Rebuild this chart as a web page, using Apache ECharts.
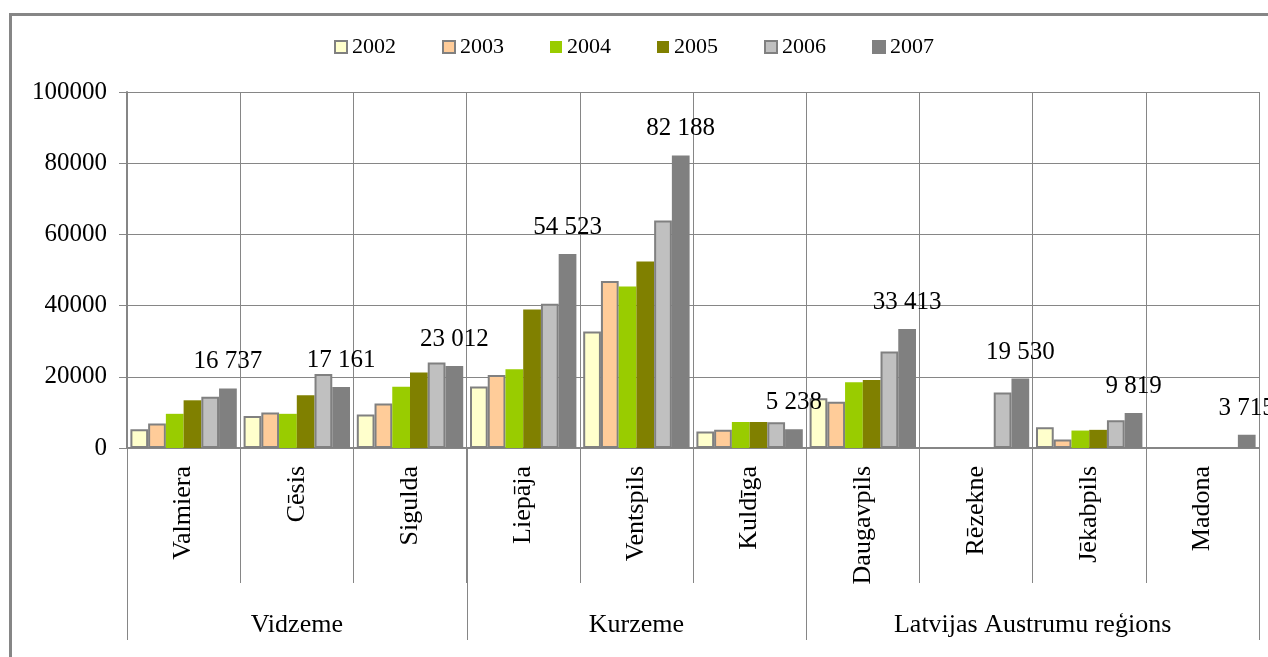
<!DOCTYPE html>
<html><head><meta charset="utf-8">
<script src="https://cdn.jsdelivr.net/npm/echarts@6/dist/echarts.min.js"></script>
<style>
html,body{margin:0;padding:0;background:#fff;}
#wrap{position:relative;width:1268px;height:657px;overflow:hidden;}
#c{width:1268px;height:657px;}
#frame{position:absolute;left:9px;top:13px;width:1300px;height:700px;border:3px solid #868686;pointer-events:none;}
</style></head><body>
<div id="wrap"><div id="c"></div><div id="frame"></div></div>
<script>
const cities = ['Valmiera','Cēsis','Sigulda','Liepāja','Ventspils','Kuldīga','Daugavpils','Rēzekne','Jēkabpils','Madona'];
const regions = ['Vidzeme','Kurzeme','Latvijas Austrumu reģions'];
const regionSizes = [3,3,4];
const years = ['2002','2003','2004','2005','2006','2007'];
const y2002 = [5300, 9000, 9400, 17300, 32700, 4600, 14000, null, 5800, null];
const y2003 = [6900, 10000, 12500, 20500, 46900, 5100, 13000, null, 2400, null];
const y2004 = [9600, 9600, 17200, 22100, 45400, 7300, 18500, null, 4900, null];
const y2005 = [13400, 14800, 21200, 38900, 52400, 7300, 19100, null, 5100, null];
const y2006 = [14400, 20800, 24000, 40500, 63900, 7200, 27100, 15600, 7800, null];
const y2007 = [16737, 17161, 23012, 54523, 82188, 5238, 33413, 19530, 9819, 3715];
const yTicks = {min:0, max:100000, interval:20000};

const fills = ['#FFFFCC','#FFCC99','#99CC00','#808000','#C0C0C0','#808080'];
const borders = [2,2,0,0,2,2];
const seriesData = [y2002,y2003,y2004,y2005,y2006,y2007];
const FONT = 'Liberation Serif';
const GRAY = '#868686';

const chart = echarts.init(document.getElementById('c'));
function fmt(v){ return String(v).replace(/\B(?=(\d{3})+(?!\d))/g,' '); }

chart.setOption({
  animation:false,
  backgroundColor:'#fff',
  textStyle:{fontFamily:FONT},
  legend:{
    top:31, left:'center', itemWidth:12, itemHeight:12, itemGap:46,
    icon:'rect',
    textStyle:{fontFamily:FONT,fontSize:22,color:'#000'},
    data:years
  },
  grid:{left:127,right:9,top:92,bottom:209,containLabel:false},
  xAxis:{
    type:'category', data:cities,
    axisLine:{show:true,lineStyle:{color:GRAY,width:2}},
    axisTick:{show:true,alignWithLabel:false,length:135,lineStyle:{color:GRAY,width:1}},
    axisLabel:{interval:0,rotate:90,margin:18,fontFamily:FONT,fontSize:26,color:'#000'},
    splitLine:{show:true,lineStyle:{color:GRAY,width:1}}
  },
  yAxis:{
    type:'value', min:yTicks.min, max:yTicks.max, interval:yTicks.interval,
    axisLine:{show:true,lineStyle:{color:GRAY,width:2}},
    axisTick:{show:true,length:8,lineStyle:{color:GRAY,width:1}},
    axisLabel:{margin:20,fontFamily:FONT,fontSize:25,color:'#000',formatter:v=>String(v)},
    splitLine:{show:true,lineStyle:{color:GRAY,width:1}}
  },
  series: years.map((y,i)=>({
    name:y, type:'bar', data:seriesData[i],
    barGap:'0%', barCategoryGap:'6%',
    itemStyle:{color:fills[i],borderColor:'#808080',borderWidth:borders[i]},
    label: i===5 ? {show:true,position:'top',distance:14,fontFamily:FONT,fontSize:25,color:'#000',formatter:p=>fmt(p.value)} : {show:false}
  }))
});

const c0 = chart.convertToPixel({xAxisIndex:0}, cities[0]);
const c1 = chart.convertToPixel({xAxisIndex:0}, cities[1]);
const band = c1 - c0;
const left = c0 - band/2;
const base = chart.convertToPixel({yAxisIndex:0}, 0);
const g = [];
let acc = 0;
const bounds = [0];
regionSizes.forEach(s=>{acc+=s;bounds.push(acc);});
bounds.forEach(b=>{
  const x = Math.round(left + b*band)+0.5;
  g.push({type:'line',shape:{x1:x,y1:base,x2:x,y2:base+192},style:{stroke:GRAY,lineWidth:1},z:10});
});
regions.forEach((r,i)=>{
  const cx = left + (bounds[i]+bounds[i+1])/2*band;
  g.push({type:'text',x:cx,y:base+177,style:{text:r,font:'26px "Liberation Serif"',fill:'#000',align:'center',verticalAlign:'middle'},z:10});
});
chart.setOption({graphic:g});
</script>
</body></html>
